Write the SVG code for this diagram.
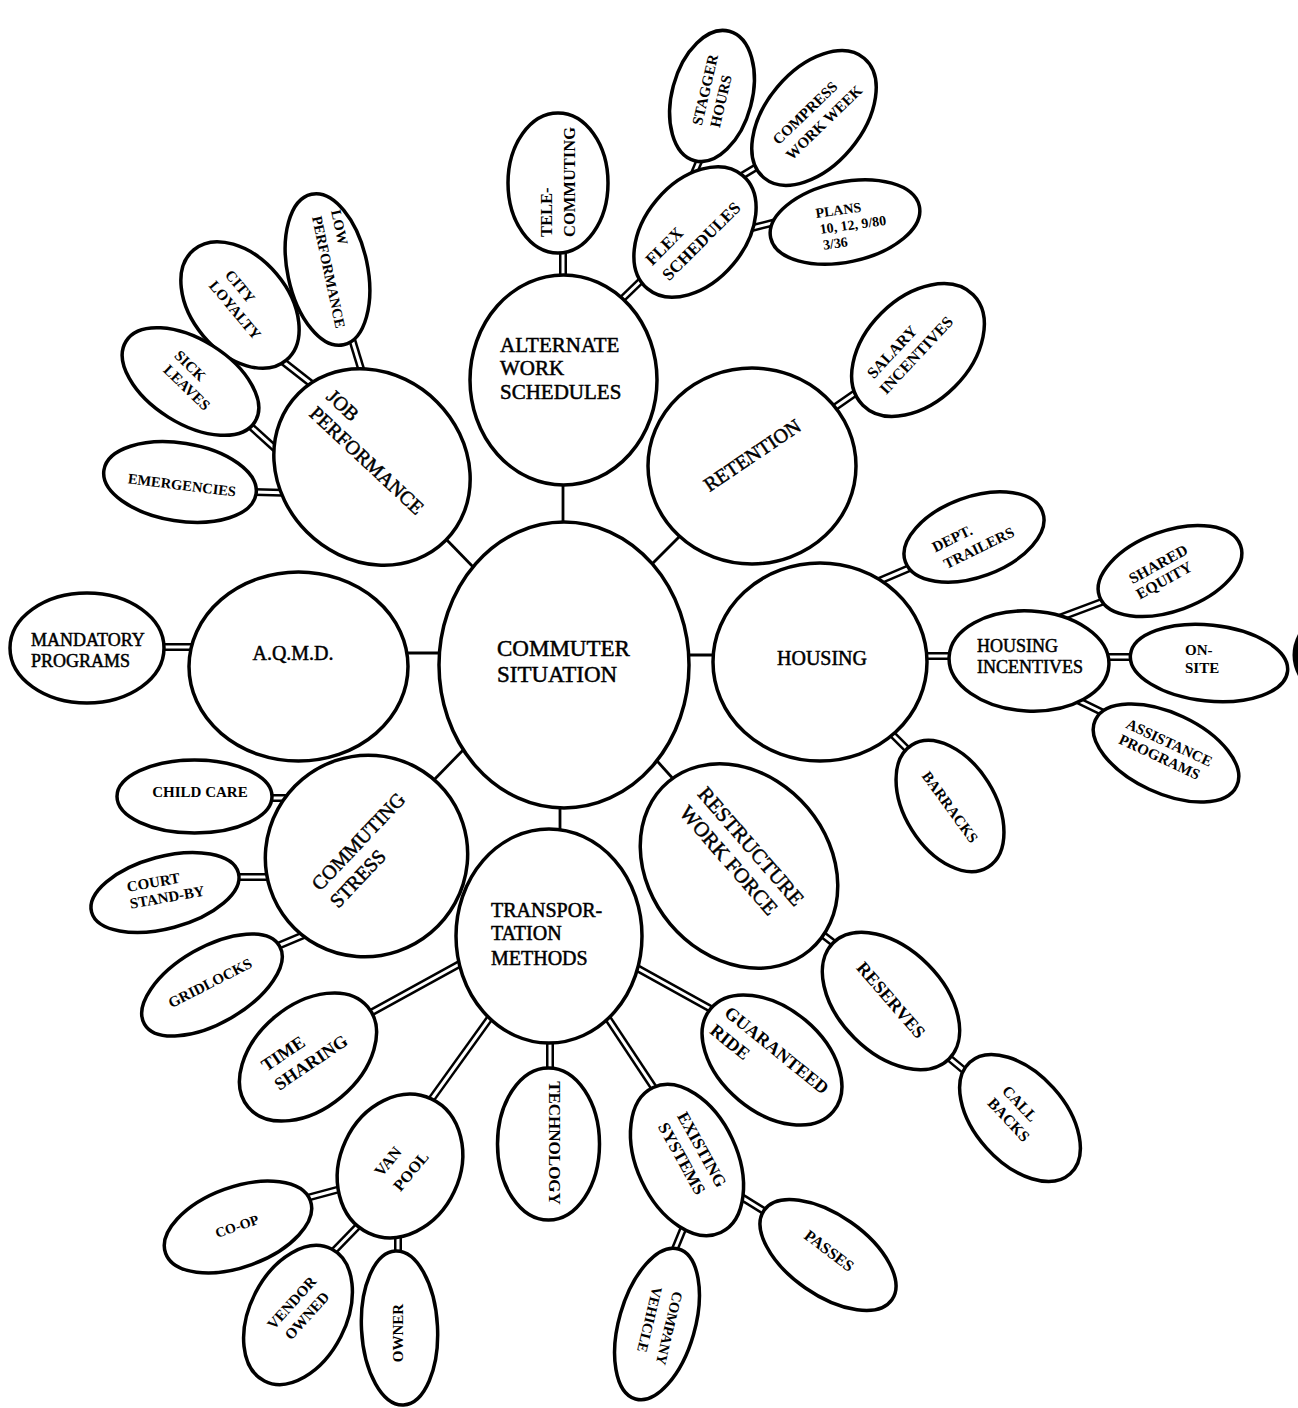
<svg xmlns="http://www.w3.org/2000/svg" width="1298" height="1408" viewBox="0 0 1298 1408">
<style>
.node ellipse{fill:#fff;stroke:#000;stroke-width:3.5}
.m{font-family:"Liberation Serif","Times New Roman",serif;font-weight:normal;fill:#000;stroke:#000;stroke-width:0.5}
.s{font-family:"Liberation Serif","Times New Roman",serif;font-weight:bold;fill:#000}
.c1 line{stroke:#000;stroke-width:2.8;fill:none}
.c2 line.o{stroke:#000;stroke-width:8}
.c2 line.i{stroke:#fff;stroke-width:3}
.mid{text-anchor:middle}
</style>
<rect width="1298" height="1408" fill="#fff"/>
<g id="connectors">
 <g class="c1">
  <line x1="563" y1="480" x2="563" y2="528"/>
  <line x1="443" y1="536" x2="478" y2="572"/>
  <line x1="649" y1="567" x2="690" y2="526"/>
  <line x1="400" y1="653" x2="446" y2="653"/>
  <line x1="684" y1="655" x2="718" y2="655"/>
  <line x1="428" y1="786" x2="468" y2="745"/>
  <line x1="649" y1="752" x2="676" y2="782"/>
  <line x1="560" y1="805" x2="560" y2="834"/>
 </g>
 <g class="c2">
  <line class="o" x1="563" y1="250" x2="563" y2="280"/><line class="i" x1="563" y1="250" x2="563" y2="280"/>
  <line class="o" x1="618" y1="303" x2="650" y2="272"/><line class="i" x1="618" y1="303" x2="650" y2="272"/>
  <line class="o" x1="689" y1="185" x2="703" y2="152"/><line class="i" x1="689" y1="185" x2="703" y2="152"/>
  <line class="o" x1="730" y1="183" x2="765" y2="162"/><line class="i" x1="730" y1="183" x2="765" y2="162"/>
  <line class="o" x1="748" y1="229" x2="780" y2="221"/><line class="i" x1="748" y1="229" x2="780" y2="221"/>
  <line class="o" x1="351" y1="336" x2="362" y2="372"/><line class="i" x1="351" y1="336" x2="362" y2="372"/>
  <line class="o" x1="281" y1="360" x2="318" y2="389"/><line class="i" x1="281" y1="360" x2="318" y2="389"/>
  <line class="o" x1="247" y1="423" x2="280" y2="453"/><line class="i" x1="247" y1="423" x2="280" y2="453"/>
  <line class="o" x1="250" y1="492" x2="292" y2="493"/><line class="i" x1="250" y1="492" x2="292" y2="493"/>
  <line class="o" x1="158" y1="647" x2="195" y2="647"/><line class="i" x1="158" y1="647" x2="195" y2="647"/>
  <line class="o" x1="831" y1="410" x2="864" y2="387"/><line class="i" x1="831" y1="410" x2="864" y2="387"/>
  <line class="o" x1="872" y1="584" x2="912" y2="567"/><line class="i" x1="872" y1="584" x2="912" y2="567"/>
  <line class="o" x1="920" y1="656" x2="955" y2="656"/><line class="i" x1="920" y1="656" x2="955" y2="656"/>
  <line class="o" x1="883" y1="725" x2="910" y2="752"/><line class="i" x1="883" y1="725" x2="910" y2="752"/>
  <line class="o" x1="1059" y1="618" x2="1107" y2="600"/><line class="i" x1="1059" y1="618" x2="1107" y2="600"/>
  <line class="o" x1="1100" y1="657" x2="1140" y2="657"/><line class="i" x1="1100" y1="657" x2="1140" y2="657"/>
  <line class="o" x1="1075" y1="699" x2="1112" y2="717"/><line class="i" x1="1075" y1="699" x2="1112" y2="717"/>
  <line class="o" x1="265" y1="798" x2="300" y2="798"/><line class="i" x1="265" y1="798" x2="300" y2="798"/>
  <line class="o" x1="233" y1="877" x2="272" y2="877"/><line class="i" x1="233" y1="877" x2="272" y2="877"/>
  <line class="o" x1="273" y1="948" x2="311" y2="932"/><line class="i" x1="273" y1="948" x2="311" y2="932"/>
  <line class="o" x1="465" y1="961" x2="365" y2="1016"/><line class="i" x1="465" y1="961" x2="365" y2="1016"/>
  <line class="o" x1="492" y1="1015" x2="428" y2="1104"/><line class="i" x1="492" y1="1015" x2="428" y2="1104"/>
  <line class="o" x1="550" y1="1035" x2="550" y2="1075"/><line class="i" x1="550" y1="1035" x2="550" y2="1075"/>
  <line class="o" x1="601" y1="1008" x2="660" y2="1097"/><line class="i" x1="601" y1="1008" x2="660" y2="1097"/>
  <line class="o" x1="628" y1="963" x2="720" y2="1014"/><line class="i" x1="628" y1="963" x2="720" y2="1014"/>
  <line class="o" x1="303" y1="1199" x2="344" y2="1188"/><line class="i" x1="303" y1="1199" x2="344" y2="1188"/>
  <line class="o" x1="330" y1="1255" x2="362" y2="1222"/><line class="i" x1="330" y1="1255" x2="362" y2="1222"/>
  <line class="o" x1="398" y1="1228" x2="398" y2="1258"/><line class="i" x1="398" y1="1228" x2="398" y2="1258"/>
  <line class="o" x1="735" y1="1193" x2="772" y2="1216"/><line class="i" x1="735" y1="1193" x2="772" y2="1216"/>
  <line class="o" x1="686" y1="1222" x2="672" y2="1256"/><line class="i" x1="686" y1="1222" x2="672" y2="1256"/>
  <line class="o" x1="814" y1="928" x2="840" y2="948"/><line class="i" x1="814" y1="928" x2="840" y2="948"/>
  <line class="o" x1="942" y1="1052" x2="966" y2="1072"/><line class="i" x1="942" y1="1052" x2="966" y2="1072"/>
 </g>
</g>

<g id="n-commuter" class="node">
 <ellipse cx="564" cy="665" rx="125" ry="143"/>
 <text class="m" font-size="23" x="497" y="656">COMMUTER</text>
 <text class="m" font-size="23" x="497" y="682">SITUATION</text>
</g>
<g id="n-alternate" class="node">
 <ellipse cx="563.5" cy="380" rx="93.5" ry="105"/>
 <text class="m" font-size="21" x="500" y="352">ALTERNATE</text>
 <text class="m" font-size="21" x="500" y="375">WORK</text>
 <text class="m" font-size="21" x="500" y="399">SCHEDULES</text>
</g>
<g id="n-telecommuting" class="node">
 <ellipse cx="558" cy="183" rx="50" ry="70"/>
 <g transform="rotate(-90)">
  <text class="s" font-size="16.5" x="-237" y="552">TELE-</text>
  <text class="s" font-size="16.5" x="-237" y="575">COMMUTING</text>
 </g>
</g>
<g id="n-flex" class="node">
 <ellipse cx="695" cy="232" rx="74" ry="50" transform="rotate(-50 695 232)"/>
 <g transform="translate(648,262) rotate(-45)">
  <text class="s" font-size="17" x="0" y="6">FLEX</text>
  <text class="s" font-size="17" x="1" y="28.6">SCHEDULES</text>
 </g>
</g>
<g id="n-stagger" class="node">
 <ellipse cx="712" cy="96" rx="40" ry="67" transform="rotate(15 712 96)"/>
 <g transform="translate(697,125) rotate(-77)">
  <text class="s" font-size="15" x="0" y="5">STAGGER</text>
  <text class="s" font-size="15" x="2" y="23">HOURS</text>
 </g>
</g>
<g id="n-compress" class="node">
 <ellipse cx="814" cy="118" rx="78" ry="48" transform="rotate(-50 814 118)"/>
 <g transform="translate(775,142) rotate(-44)">
  <text class="s" font-size="15" x="0" y="5">COMPRESS</text>
  <text class="s" font-size="15" x="-1" y="25">WORK WEEK</text>
 </g>
</g>
<g id="n-plans" class="node">
 <ellipse cx="845" cy="222" rx="76" ry="40" transform="rotate(-12 845 222)"/>
 <g transform="translate(845,222) rotate(-8)">
  <text class="s" font-size="14" x="-28" y="-8">PLANS</text>
  <text class="s" font-size="14" x="-26" y="8.5">10, 12, 9/80</text>
  <text class="s" font-size="14" x="-25" y="24.5">3/36</text>
 </g>
</g>
<g id="n-retention" class="node">
 <ellipse cx="752" cy="466" rx="104" ry="98"/>
 <g transform="translate(752,455) rotate(-34)">
  <text class="m mid" font-size="20" x="0" y="7">RETENTION</text>
 </g>
</g>
<g id="n-salary" class="node">
 <ellipse cx="918" cy="350" rx="78" ry="52" transform="rotate(-45 918 350)"/>
 <g transform="translate(870,376) rotate(-47)">
  <text class="s" font-size="16" x="0" y="5">SALARY</text>
  <text class="s" font-size="16" x="-3" y="25">INCENTIVES</text>
 </g>
</g>
<g id="n-job" class="node">
 <ellipse cx="372" cy="467" rx="104" ry="92" transform="rotate(45 372 467)"/>
 <g transform="translate(330,393) rotate(43)">
  <text class="m" font-size="20" x="0" y="7">JOB</text>
  <text class="m" font-size="20" x="-1" y="31">PERFORMANCE</text>
 </g>
</g>
<g id="n-low" class="node">
 <ellipse cx="327.5" cy="269.5" rx="40" ry="77" transform="rotate(-12 327.5 269.5)"/>
 <g transform="translate(336,210) rotate(78)">
  <text class="s" font-size="14.5" x="0" y="5">LOW</text>
  <text class="s" font-size="14.5" x="2" y="25">PERFORMANCE</text>
 </g>
</g>
<g id="n-city" class="node">
 <ellipse cx="240" cy="305" rx="72" ry="48" transform="rotate(50 240 305)"/>
 <g transform="translate(228,272) rotate(50)">
  <text class="s" font-size="15" x="0" y="5">CITY</text>
  <text class="s" font-size="15" x="-2" y="24">LOYALTY</text>
 </g>
</g>
<g id="n-sick" class="node">
 <ellipse cx="190.5" cy="381.5" rx="76" ry="42" transform="rotate(32 190.5 381.5)"/>
 <g transform="translate(177,353) rotate(44)">
  <text class="s" font-size="15" x="0" y="5">SICK</text>
  <text class="s" font-size="15" x="2" y="23">LEAVES</text>
 </g>
</g>
<g id="n-emergencies" class="node">
 <ellipse cx="180" cy="482" rx="77" ry="39" transform="rotate(9 180 482)"/>
 <g transform="translate(182,485) rotate(7)">
  <text class="s mid" font-size="14.5" x="0" y="5">EMERGENCIES</text>
 </g>
</g>
<g id="n-aqmd" class="node">
 <ellipse cx="298.5" cy="666.5" rx="109.5" ry="94.5"/>
 <text class="m mid" font-size="20" x="293" y="660">A.Q.M.D.</text>
</g>
<g id="n-mandatory" class="node">
 <ellipse cx="87" cy="648" rx="77" ry="55"/>
 <text class="m" font-size="18" x="31" y="646">MANDATORY</text>
 <text class="m" font-size="18" x="31" y="667">PROGRAMS</text>
</g>
<g id="n-housing" class="node">
 <ellipse cx="820" cy="662" rx="107" ry="99"/>
 <text class="m mid" font-size="20" x="822" y="665">HOUSING</text>
</g>
<g id="n-dept" class="node">
 <ellipse cx="974" cy="537" rx="73" ry="40" transform="rotate(-20 974 537)"/>
 <g transform="translate(933,548) rotate(-26)">
  <text class="s" font-size="15" x="0" y="5">DEPT.</text>
  <text class="s" font-size="15" x="3" y="25">TRAILERS</text>
 </g>
</g>
<g id="n-housing-incentives" class="node">
 <ellipse cx="1029" cy="661" rx="80" ry="50" transform="rotate(3 1029 661)"/>
 <text class="m" font-size="18" x="977" y="652">HOUSING</text>
 <text class="m" font-size="18" x="977" y="673">INCENTIVES</text>
</g>
<g id="n-shared" class="node">
 <ellipse cx="1170" cy="571" rx="75" ry="40" transform="rotate(-20 1170 571)"/>
 <g transform="translate(1130,580) rotate(-29)">
  <text class="s" font-size="15.5" x="0" y="5">SHARED</text>
  <text class="s" font-size="15.5" x="-1" y="22">EQUITY</text>
 </g>
</g>
<g id="n-onsite" class="node">
 <ellipse cx="1209" cy="663" rx="79" ry="38" transform="rotate(6 1209 663)"/>
 <text class="s" font-size="15" x="1185" y="655">ON-</text>
 <text class="s" font-size="15" x="1185" y="673">SITE</text>
</g>
<g id="n-assistance" class="node">
 <ellipse cx="1166" cy="753" rx="78" ry="40" transform="rotate(25 1166 753)"/>
 <g transform="translate(1127,723) rotate(25)">
  <text class="s" font-size="15" x="0" y="5">ASSISTANCE</text>
  <text class="s" font-size="15" x="0" y="22">PROGRAMS</text>
 </g>
</g>
<g id="n-barracks" class="node">
 <ellipse cx="950" cy="806" rx="72" ry="45" transform="rotate(58 950 806)"/>
 <g transform="translate(950,807) rotate(54)">
  <text class="s mid" font-size="15" x="0" y="5">BARRACKS</text>
 </g>
</g>
<g id="n-commuting-stress" class="node">
 <ellipse cx="366.5" cy="856" rx="102" ry="100" transform="rotate(-40 366.5 856)"/>
 <g transform="translate(315,887) rotate(-46.6)">
  <text class="m" font-size="20" x="0" y="7">COMMUTING</text>
  <text class="m" font-size="20" x="0" y="32">STRESS</text>
 </g>
</g>
<g id="n-childcare" class="node">
 <ellipse cx="194.5" cy="796.5" rx="77.5" ry="36.5"/>
 <text class="s mid" font-size="15" x="200" y="797">CHILD CARE</text>
</g>
<g id="n-court" class="node">
 <ellipse cx="165" cy="892.5" rx="76" ry="36" transform="rotate(-15 165 892.5)"/>
 <g transform="translate(127,887) rotate(-10)">
  <text class="s" font-size="15" x="0" y="5">COURT</text>
  <text class="s" font-size="15" x="0" y="22">STAND-BY</text>
 </g>
</g>
<g id="n-gridlocks" class="node">
 <ellipse cx="212" cy="985" rx="78" ry="38" transform="rotate(-30 212 985)"/>
 <g transform="translate(210,983) rotate(-27)">
  <text class="s mid" font-size="15" x="0" y="5">GRIDLOCKS</text>
 </g>
</g>
<g id="n-transportation" class="node">
 <ellipse cx="549" cy="936" rx="93" ry="107"/>
 <text class="m" font-size="20" x="491" y="917">TRANSPOR-</text>
 <text class="m" font-size="20" x="491" y="940">TATION</text>
 <text class="m" font-size="20" x="491" y="965">METHODS</text>
</g>
<g id="n-restructure" class="node">
 <ellipse cx="739" cy="866" rx="110" ry="90" transform="rotate(50 739 866)"/>
 <g transform="translate(702,790) rotate(49)">
  <text class="m" font-size="21" x="0" y="7">RESTRUCTURE</text>
  <text class="m" font-size="21" x="2" y="33">WORK FORCE</text>
 </g>
</g>
<g id="n-timesharing" class="node">
 <ellipse cx="308" cy="1057" rx="78" ry="52" transform="rotate(-40 308 1057)"/>
 <g transform="translate(305,1052) rotate(-34)">
  <text class="s" font-size="18" x="-43" y="-5">TIME</text>
  <text class="s" font-size="18" x="-43" y="18">SHARING</text>
 </g>
</g>
<g id="n-vanpool" class="node">
 <ellipse cx="400" cy="1166" rx="60" ry="74" transform="rotate(25 400 1166)"/>
 <g transform="translate(399,1166) rotate(-50)">
  <text class="s" font-size="16" x="-20" y="-6">VAN</text>
  <text class="s" font-size="16" x="-19" y="18">POOL</text>
 </g>
</g>
<g id="n-coop" class="node">
 <ellipse cx="238" cy="1227" rx="77" ry="40" transform="rotate(-20 238 1227)"/>
 <g transform="translate(237,1226) rotate(-19)">
  <text class="s mid" font-size="14" x="0" y="5">CO-OP</text>
 </g>
</g>
<g id="n-vendor" class="node">
 <ellipse cx="298" cy="1315" rx="48" ry="74" transform="rotate(27 298 1315)"/>
 <g transform="translate(270,1327) rotate(-48)">
  <text class="s" font-size="15" x="0" y="5">VENDOR</text>
  <text class="s" font-size="15" x="4" y="25">OWNED</text>
 </g>
</g>
<g id="n-owner" class="node">
 <ellipse cx="399.5" cy="1328" rx="38" ry="77" transform="rotate(-3 399.5 1328)"/>
 <g transform="translate(398,1333) rotate(-90)">
  <text class="s mid" font-size="15" x="0" y="5">OWNER</text>
 </g>
</g>
<g id="n-technology" class="node">
 <ellipse cx="548.5" cy="1144" rx="51" ry="76"/>
 <g transform="translate(555,1143) rotate(90)">
  <text class="s mid" font-size="17" x="0" y="6">TECHNOLOGY</text>
 </g>
</g>
<g id="n-existing" class="node">
 <ellipse cx="687" cy="1160" rx="80" ry="50" transform="rotate(65 687 1160)"/>
 <g transform="translate(682,1113) rotate(61)">
  <text class="s" font-size="17" x="0" y="6">EXISTING</text>
  <text class="s" font-size="17" x="0" y="28">SYSTEMS</text>
 </g>
</g>
<g id="n-guaranteed" class="node">
 <ellipse cx="772" cy="1060" rx="80" ry="52" transform="rotate(40 772 1060)"/>
 <g transform="translate(727,1010) rotate(39)">
  <text class="s" font-size="18" x="0" y="6">GUARANTEED</text>
  <text class="s" font-size="18" x="0" y="29">RIDE</text>
 </g>
</g>
<g id="n-passes" class="node">
 <ellipse cx="828" cy="1255" rx="78" ry="40" transform="rotate(35 828 1255)"/>
 <g transform="translate(829,1251) rotate(37)">
  <text class="s mid" font-size="16" x="0" y="5">PASSES</text>
 </g>
</g>
<g id="n-company" class="node">
 <ellipse cx="657" cy="1324" rx="38" ry="78" transform="rotate(16 657 1324)"/>
 <g transform="translate(678,1292) rotate(103.5)">
  <text class="s" font-size="14.5" x="0" y="5">COMPANY</text>
  <text class="s" font-size="14.5" x="0" y="26">VEHICLE</text>
 </g>
</g>
<g id="n-reserves" class="node">
 <ellipse cx="891" cy="1001" rx="82" ry="52" transform="rotate(45 891 1001)"/>
 <g transform="translate(891,1000) rotate(49)">
  <text class="s mid" font-size="18" x="0" y="6">RESERVES</text>
 </g>
</g>
<g id="n-callbacks" class="node">
 <ellipse cx="1020" cy="1118" rx="75" ry="45" transform="rotate(48 1020 1118)"/>
 <g transform="translate(1005,1088) rotate(47)">
  <text class="s" font-size="15.5" x="0" y="5">CALL</text>
  <text class="s" font-size="15.5" x="-1" y="24">BACKS</text>
 </g>
</g>
<path d="M1298,634 Q1287,655 1298,676 Z" fill="#000"/>
</svg>
